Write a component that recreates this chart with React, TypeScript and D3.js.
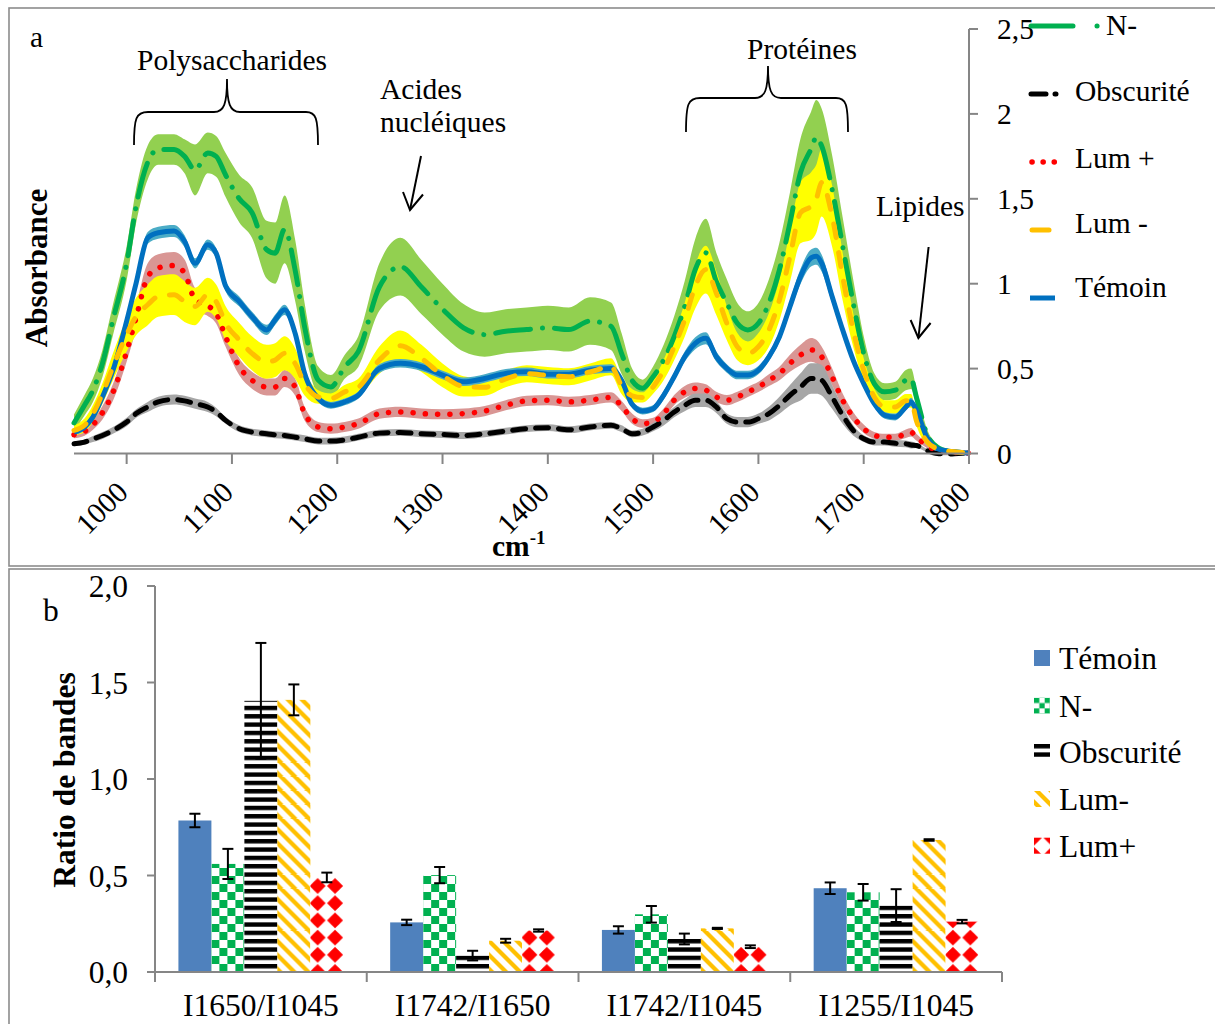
import React from "react";
import * as d3 from "d3";

// ---------- Panel a : FTIR spectra (mean ± sd) ----------
const wavenumbers = [
  950, 960, 968, 977, 987, 1000, 1009, 1020, 1030, 1045,
  1055, 1065, 1077, 1085, 1094, 1107, 1119, 1133, 1141, 1150,
  1160, 1169, 1182, 1194, 1207, 1220, 1240, 1260, 1280, 1300,
  1320, 1340, 1360, 1380, 1400, 1420, 1440, 1460, 1470, 1480,
  1490, 1500, 1510, 1520, 1530, 1540, 1550, 1560, 1570, 1580,
  1590, 1600, 1610, 1620, 1630, 1640, 1650, 1655, 1660, 1670,
  1680, 1690, 1700, 1710, 1720, 1730, 1740, 1745, 1750, 1760,
  1770, 1780, 1790, 1800,
];

const temoinMean = [
  0.126, 0.156, 0.215, 0.333, 0.49, 0.78, 1.004, 1.27, 1.3, 1.31,
  1.25, 1.12, 1.23, 1.18, 0.986, 0.895, 0.807, 0.728, 0.787, 0.846,
  0.708, 0.472, 0.324, 0.284, 0.304, 0.343, 0.501, 0.531, 0.511, 0.462,
  0.422, 0.442, 0.472, 0.481, 0.467, 0.467, 0.491, 0.501, 0.432, 0.29,
  0.25, 0.264, 0.343, 0.452, 0.57, 0.649, 0.679, 0.57, 0.501, 0.462,
  0.462, 0.491, 0.57, 0.688, 0.866, 1.043, 1.152, 1.162, 1.122, 0.925,
  0.728, 0.55, 0.412, 0.294, 0.225, 0.215, 0.274, 0.304, 0.254, 0.096,
  0.028, 0.014, 0.008, 0.002,
];
const temoinSd = [
  0.015, 0.02, 0.02, 0.025, 0.025, 0.025, 0.03, 0.035, 0.035, 0.035,
  0.035, 0.03, 0.03, 0.03, 0.03, 0.03, 0.03, 0.03, 0.03, 0.03,
  0.03, 0.025, 0.02, 0.02, 0.02, 0.02, 0.025, 0.025, 0.025, 0.025,
  0.025, 0.025, 0.025, 0.025, 0.025, 0.025, 0.025, 0.025, 0.025, 0.02,
  0.02, 0.02, 0.025, 0.025, 0.03, 0.035, 0.035, 0.03, 0.025, 0.025,
  0.025, 0.025, 0.025, 0.03, 0.035, 0.045, 0.05, 0.05, 0.05, 0.04,
  0.03, 0.025, 0.02, 0.02, 0.02, 0.02, 0.02, 0.025, 0.02, 0.015,
  0.01, 0.008, 0.006, 0.005,
];

const nMinusMean = [
  0.18, 0.284, 0.373, 0.53, 0.787, 1.12, 1.457, 1.714, 1.79, 1.79,
  1.75, 1.67, 1.77, 1.75, 1.64, 1.5, 1.42, 1.2, 1.18, 1.32,
  1.08, 0.747, 0.432, 0.392, 0.51, 0.6, 0.98, 1.1, 0.98, 0.85,
  0.74, 0.7, 0.72, 0.73, 0.74, 0.73, 0.78, 0.75, 0.59, 0.43,
  0.385, 0.452, 0.55, 0.688, 0.866, 1.083, 1.182, 1.013, 0.886, 0.767,
  0.728, 0.767, 0.886, 1.083, 1.359, 1.655, 1.793, 1.862, 1.812, 1.556,
  1.221, 0.886, 0.59, 0.412, 0.363, 0.373, 0.432, 0.44, 0.333, 0.116,
  0.037, 0.014, 0.008, 0.002,
];
const nMinusSd = [
  0.05, 0.06, 0.07, 0.08, 0.09, 0.1, 0.1, 0.1, 0.09, 0.09,
  0.1, 0.15, 0.12, 0.12, 0.13, 0.14, 0.15, 0.17, 0.18, 0.2,
  0.18, 0.14, 0.08, 0.07, 0.07, 0.09, 0.14, 0.17, 0.16, 0.15,
  0.14, 0.13, 0.13, 0.13, 0.13, 0.13, 0.14, 0.14, 0.12, 0.07,
  0.05, 0.06, 0.09, 0.12, 0.15, 0.18, 0.2, 0.17, 0.14, 0.12,
  0.11, 0.12, 0.14, 0.16, 0.18, 0.2, 0.22, 0.22, 0.22, 0.2,
  0.17, 0.14, 0.1, 0.06, 0.05, 0.05, 0.06, 0.06, 0.05, 0.03,
  0.015, 0.01, 0.01, 0.005,
];

const lumPlusMean = [
  0.11, 0.13, 0.17, 0.24, 0.36, 0.6, 0.8, 1.04, 1.093, 1.107,
  1.063, 0.905, 0.87, 0.826, 0.688, 0.511, 0.432, 0.392, 0.392, 0.442,
  0.392, 0.235, 0.156, 0.146, 0.156, 0.176, 0.235, 0.245, 0.235, 0.231,
  0.235, 0.25, 0.284, 0.31, 0.314, 0.304, 0.314, 0.33, 0.28, 0.205,
  0.176, 0.185, 0.235, 0.314, 0.363, 0.383, 0.373, 0.333, 0.314, 0.333,
  0.363, 0.392, 0.432, 0.471, 0.531, 0.58, 0.61, 0.6, 0.57, 0.452,
  0.314, 0.215, 0.146, 0.107, 0.096, 0.096, 0.116, 0.125, 0.096, 0.047,
  0.018, 0.01, 0.005, 0.002,
];
const lumPlusSd = [
  0.02, 0.025, 0.03, 0.04, 0.05, 0.06, 0.07, 0.08, 0.08, 0.08,
  0.08, 0.07, 0.06, 0.06, 0.06, 0.05, 0.05, 0.05, 0.05, 0.05,
  0.05, 0.04, 0.03, 0.03, 0.03, 0.03, 0.03, 0.03, 0.03, 0.03,
  0.03, 0.03, 0.03, 0.03, 0.03, 0.03, 0.03, 0.03, 0.03, 0.03,
  0.025, 0.025, 0.03, 0.03, 0.035, 0.035, 0.035, 0.03, 0.03, 0.03,
  0.03, 0.03, 0.035, 0.04, 0.05, 0.06, 0.07, 0.07, 0.06, 0.05,
  0.04, 0.03, 0.025, 0.02, 0.02, 0.02, 0.025, 0.025, 0.02, 0.015,
  0.01, 0.008, 0.005, 0.004,
];

const lumMinusMean = [
  0.136, 0.166, 0.235, 0.353, 0.511, 0.7, 0.807, 0.876, 0.925, 0.935,
  0.895, 0.866, 0.935, 0.895, 0.767, 0.669, 0.59, 0.54, 0.55, 0.59,
  0.53, 0.412, 0.333, 0.324, 0.363, 0.39, 0.55, 0.635, 0.56, 0.46,
  0.395, 0.39, 0.44, 0.47, 0.46, 0.452, 0.48, 0.511, 0.4, 0.34,
  0.33, 0.392, 0.491, 0.629, 0.787, 0.984, 1.083, 0.945, 0.767, 0.629,
  0.59, 0.629, 0.728, 0.905, 1.162, 1.418, 1.457, 1.5, 1.596, 1.398,
  1.043, 0.728, 0.491, 0.333, 0.274, 0.274, 0.31, 0.31, 0.195, 0.07,
  0.028, 0.014, 0.008, 0.002,
];
const lumMinusSd = [
  0.03, 0.04, 0.05, 0.06, 0.08, 0.1, 0.11, 0.12, 0.12, 0.12,
  0.12, 0.11, 0.1, 0.1, 0.1, 0.1, 0.1, 0.1, 0.1, 0.1,
  0.09, 0.07, 0.04, 0.03, 0.04, 0.05, 0.08, 0.09, 0.08, 0.07,
  0.06, 0.05, 0.05, 0.05, 0.05, 0.05, 0.05, 0.05, 0.05, 0.04,
  0.03, 0.04, 0.06, 0.08, 0.1, 0.13, 0.14, 0.13, 0.1, 0.08,
  0.07, 0.08, 0.1, 0.12, 0.15, 0.18, 0.2, 0.2, 0.2, 0.18,
  0.14, 0.1, 0.07, 0.05, 0.04, 0.04, 0.04, 0.04, 0.03, 0.02,
  0.01, 0.01, 0.005, 0.005,
];

const obscuriteMean = [
  0.057, 0.067, 0.085, 0.106, 0.136, 0.185, 0.235, 0.274, 0.304, 0.318,
  0.31, 0.294, 0.274, 0.245, 0.195, 0.146, 0.126, 0.116, 0.11, 0.106,
  0.096, 0.087, 0.073, 0.073, 0.08, 0.096, 0.12, 0.124, 0.116, 0.112,
  0.106, 0.116, 0.132, 0.146, 0.152, 0.14, 0.156, 0.166, 0.146, 0.116,
  0.126, 0.156, 0.195, 0.244, 0.284, 0.314, 0.314, 0.274, 0.205, 0.185,
  0.185, 0.205, 0.235, 0.284, 0.343, 0.392, 0.442, 0.442, 0.432, 0.333,
  0.225, 0.136, 0.087, 0.067, 0.067, 0.06, 0.057, 0.05, 0.047, 0.018,
  0.0, -0.003, 0.0, 0.002,
];
const obscuriteSd = [
  0.015, 0.015, 0.018, 0.02, 0.02, 0.025, 0.025, 0.03, 0.03, 0.03,
  0.03, 0.03, 0.03, 0.025, 0.02, 0.02, 0.02, 0.02, 0.02, 0.02,
  0.02, 0.02, 0.02, 0.02, 0.02, 0.02, 0.02, 0.02, 0.02, 0.02,
  0.02, 0.02, 0.02, 0.02, 0.02, 0.02, 0.02, 0.02, 0.02, 0.02,
  0.02, 0.025, 0.03, 0.03, 0.035, 0.04, 0.04, 0.035, 0.03, 0.03,
  0.03, 0.03, 0.04, 0.05, 0.06, 0.08, 0.09, 0.09, 0.09, 0.07,
  0.05, 0.03, 0.02, 0.02, 0.02, 0.02, 0.02, 0.02, 0.015, 0.01,
  0.01, 0.008, 0.005, 0.004,
];

const wavenumberTicks = [1000, 1100, 1200, 1300, 1400, 1500, 1600, 1700, 1800];
const absorbanceTicks = [0, 0.5, 1, 1.5, 2, 2.5];

// ---------- Panel b : band ratios ----------
const ratioCategories = ["I1650/I1045", "I1742/I1650", "I1742/I1045", "I1255/I1045"];
const barSeriesNames = ["Témoin", "N-", "Obscurité", "Lum-", "Lum+"];
const temoinRatio = [0.785, 0.257, 0.218, 0.434];
const temoinRatioErr = [0.035, 0.014, 0.019, 0.03];
const nMinusRatio = [0.56, 0.502, 0.299, 0.413];
const nMinusRatioErr = [0.078, 0.042, 0.043, 0.043];
const obscuriteRatio = [1.405, 0.085, 0.171, 0.344];
const obscuriteRatioErr = [0.3, 0.025, 0.028, 0.085];
const lumMinusRatio = [1.41, 0.162, 0.226, 0.684];
const lumMinusRatioErr = [0.08, 0.01, 0.003, 0.004];
const lumPlusRatio = [0.49, 0.215, 0.131, 0.261];
const lumPlusRatioErr = [0.025, 0.006, 0.007, 0.009];
const ratioTicks = [0, 0.5, 1, 1.5, 2];

const FONT = "'Liberation Serif', 'Times New Roman', serif";

type Spec = { key: string; mean: number[]; sd: number[]; line: string; band: string; dash: string | null };

const spectra: Record<string, Spec> = {
  "N-": { key: "N-", mean: nMinusMean, sd: nMinusSd, line: "#00b050", band: "#92d050", dash: "35 12 0.1 12" },
  "Obscurité": { key: "Obscurité", mean: obscuriteMean, sd: obscuriteSd, line: "#000000", band: "#a6a6a6", dash: "13 10" },
  "Lum +": { key: "Lum +", mean: lumPlusMean, sd: lumPlusSd, line: "#ff0000", band: "#d99694", dash: "0.1 12.2" },
  "Lum -": { key: "Lum -", mean: lumMinusMean, sd: lumMinusSd, line: "#ffc000", band: "#ffff00", dash: "14 15" },
  "Témoin": { key: "Témoin", mean: temoinMean, sd: temoinSd, line: "#0070c0", band: "#4bacc6", dash: null },
};
const bandOrder = ["N-", "Lum +", "Obscurité", "Lum -", "Témoin"];
const lineOrder = ["N-", "Obscurité", "Lum +", "Témoin", "Lum -"];

const barData: Record<string, { v: number[]; e: number[] }> = {
  "Témoin": { v: temoinRatio, e: temoinRatioErr },
  "N-": { v: nMinusRatio, e: nMinusRatioErr },
  "Obscurité": { v: obscuriteRatio, e: obscuriteRatioErr },
  "Lum-": { v: lumMinusRatio, e: lumMinusRatioErr },
  "Lum+": { v: lumPlusRatio, e: lumPlusRatioErr },
};

function PatternDef({ name, id, x0, y0, cell = 8 }: { name: string; id: string; x0: number; y0: number; cell?: number }) {
  if (name === "N-") {
    const c = cell;
    return (
      <pattern id={id} patternUnits="userSpaceOnUse" x={x0} y={y0} width={2 * c} height={2 * c}>
        <rect width={2 * c} height={2 * c} fill="#fff" />
        <rect x={0} y={0} width={c} height={c} fill="#00b050" />
        <rect x={c} y={c} width={c} height={c} fill="#00b050" />
      </pattern>
    );
  }
  if (name === "Obscurité") {
    return (
      <pattern id={id} patternUnits="userSpaceOnUse" x={x0} y={y0 - 8} width={60} height={8.33}>
        <rect width={60} height={8.33} fill="#fff" />
        <rect x={0} y={0} width={60} height={4.4} fill="#000" />
      </pattern>
    );
  }
  if (name === "Lum-") {
    return (
      <pattern id={id} patternUnits="userSpaceOnUse" x={x0} y={y0} width={14} height={14}>
        <rect width={14} height={14} fill="#fff" />
        <path d="M0,0 L6,0 L14,8 L14,14 Z" fill="#ffc000" />
        <path d="M0,8 L6,14 L0,14 Z" fill="#ffc000" />
      </pattern>
    );
  }
  if (name === "Lum+") {
    const w = 17.4, h = 17.2, cx = w / 2, cy = h / 2;
    return (
      <pattern id={id} patternUnits="userSpaceOnUse" x={x0} y={y0} width={w} height={h}>
        <rect width={w} height={h} fill="#fff" />
        <path d={`M${cx},${cy - 8} L${cx + 8},${cy} L${cx},${cy + 8} L${cx - 8},${cy} Z`} fill="#ff0000" />
        <circle cx={cx} cy={cy} r={5.4} fill="#ff0000" />
      </pattern>
    );
  }
  return null;
}

function fillFor(name: string, id: string) {
  return name === "Témoin" ? "#4f81bd" : `url(#${id})`;
}

export default function App() {
  // ----- panel a scales -----
  const xA = d3.scaleLinear().domain([950, 1800]).range([74, 969]);
  const yA = d3.scaleLinear().domain([0, 2.5]).range([453.5, 29]);

  const bandPath = (s: Spec) =>
    d3
      .area<number>()
      .x((_, i) => xA(wavenumbers[i]))
      .y0((_, i) => yA(s.mean[i] - s.sd[i]))
      .y1((_, i) => yA(s.mean[i] + s.sd[i]))
      .curve(d3.curveMonotoneX)(wavenumbers) as string;
  const linePath = (s: Spec) =>
    d3
      .line<number>()
      .x((_, i) => xA(wavenumbers[i]))
      .y((_, i) => yA(s.mean[i]))
      .curve(d3.curveMonotoneX)(wavenumbers) as string;

  const fmtA = (d: number) => String(d).replace(".", ",");

  // ----- panel b scales -----
  const xB = d3.scaleBand<string>().domain(ratioCategories).range([155, 1002]).padding(0);
  const xInner = d3
    .scaleBand<string>()
    .domain(barSeriesNames)
    .range([0, xB.step()])
    .paddingInner(0)
    .paddingOuter(0.71);
  const yB = d3.scaleLinear().domain([0, 2]).range([972, 586]);
  const fmtB = (d: number) => d.toFixed(1).replace(".", ",");

  const axisGray = "#868686";
  const legendA = [
    { key: "N-", y: 26, text: "N-", tx: 1106, tb: 35 },
    { key: "Obscurité", y: 94, text: "Obscurité", tx: 1075, tb: 101 },
    { key: "Lum +", y: 162, text: "Lum +", tx: 1075, tb: 168 },
    { key: "Lum -", y: 230, text: "Lum -", tx: 1075, tb: 233 },
    { key: "Témoin", y: 298, text: "Témoin", tx: 1075, tb: 297 },
  ];

  const legendBRows = [658, 705.7, 751.7, 799, 845.7];

  const barBottom = yB(0);

  return (
    <svg
      width={1215}
      height={1024}
      style={{ position: "absolute", left: 0, top: 0, display: "block", background: "#fff" }}
      fontFamily={FONT}
    >
      <defs>
        {ratioCategories.map((cat, ci) =>
          barSeriesNames.map((name) => {
            const bx = (xB(cat) as number) + (xInner(name) as number);
            return (
              <PatternDef
                key={`p-${ci}-${name}`}
                name={name}
                id={`pat-${ci}-${barSeriesNames.indexOf(name)}`}
                x0={name === "Lum+" ? bx - 1.4 : bx}
                y0={name === "Lum+" ? barBottom - 8.6 : barBottom}
              />
            );
          })
        )}
        {barSeriesNames.map((name, i) => (
          <PatternDef
            key={`lp-${name}`}
            name={name}
            id={`lpat-${i}`}
            cell={5.34}
            x0={name === "Lum+" ? 1034 - 8.7 : 1034}
            y0={name === "Lum+" ? legendBRows[i] - 8 - 8.6 : legendBRows[i] - 8}
          />
        ))}
      </defs>

      <rect x={0} y={0} width={1215} height={1024} fill="#fff" />

      {/* panel borders */}
      <rect x={9} y={8} width={1230} height={558} fill="none" stroke="#8c8c8c" strokeWidth={1.6} />
      <rect x={9} y={569} width={1230} height={480} fill="none" stroke="#8c8c8c" strokeWidth={1.6} />

      {/* ================= Panel a ================= */}
      <g>
        {bandOrder.map((k) => (
          <path key={`band-${k}`} d={bandPath(spectra[k])} fill={spectra[k].band} stroke="none" />
        ))}
        {lineOrder.map((k) => {
          const s = spectra[k];
          return (
            <path
              key={`line-${k}`}
              d={linePath(s)}
              fill="none"
              stroke={s.line}
              strokeWidth={k === "Lum +" ? 5.5 : 5}
              strokeLinecap={s.dash ? "round" : "butt"}
              strokeLinejoin="round"
              strokeDasharray={s.dash ?? undefined}
            />
          );
        })}

        {/* x axis */}
        <line x1={74} x2={969} y1={453.5} y2={453.5} stroke={axisGray} strokeWidth={2} />
        {wavenumberTicks.map((t) => (
          <g key={`xt-${t}`}>
            <line x1={xA(t)} x2={xA(t)} y1={453.5} y2={464} stroke={axisGray} strokeWidth={2} />
            <text
              transform={`translate(${xA(t) + 3},${494}) rotate(-45)`}
              textAnchor="end"
              fontSize={29.5}
              fill="#000"
            >
              {t}
            </text>
          </g>
        ))}
        <text x={492} y={556} fontSize={29.5} fontWeight="bold">
          cm<tspan fontSize={19} dy={-12}>-1</tspan>
        </text>

        {/* right y axis */}
        <line x1={969} x2={969} y1={yA(2.5)} y2={453.5} stroke={axisGray} strokeWidth={2} />
        {absorbanceTicks.map((t) => (
          <g key={`yt-${t}`}>
            <line x1={969} x2={978} y1={yA(t)} y2={yA(t)} stroke={axisGray} strokeWidth={2} />
            <text x={997} y={yA(t) + 10} fontSize={29.5}>
              {fmtA(t)}
            </text>
          </g>
        ))}

        <text transform="translate(47,268) rotate(-90)" textAnchor="middle" fontSize={31} fontWeight="bold">
          Absorbance
        </text>
        <text x={30} y={47} fontSize={29.5}>a</text>

        {/* annotations */}
        <text x={232} y={70} textAnchor="middle" fontSize={29.5}>Polysaccharides</text>
        <path
          d="M134,145 C134,118 136,112 148,112 L214,112 C224,112 227,104 227,79 C227,104 230,112 240,112 L306,112 C316,112 318,118 318,145"
          fill="none"
          stroke="#000"
          strokeWidth={1.8}
        />
        <text x={380} y={99} fontSize={29.5}>Acides</text>
        <text x={380} y={132} fontSize={29.5}>nucléiques</text>
        <line x1={421} y1={156} x2={410} y2={210} stroke="#000" strokeWidth={2} />
        <path d="M403,192 L410,210 L423,194.5" fill="none" stroke="#000" strokeWidth={2} />

        <text x={802} y={59} textAnchor="middle" fontSize={29.5}>Protéines</text>
        <path
          d="M686,132 C686,104 688,98 700,98 L755,98 C765,98 768,90 768,66 C768,90 771,98 781,98 L836,98 C846,98 848,104 848,132"
          fill="none"
          stroke="#000"
          strokeWidth={1.8}
        />
        <text x={876} y={216} fontSize={29.5}>Lipides</text>
        <line x1={928.6} y1={247} x2={918.4} y2={338} stroke="#000" strokeWidth={2} />
        <path d="M910.6,320 L918.4,338 L930.6,323" fill="none" stroke="#000" strokeWidth={2} />

        {/* legend a */}
        {legendA.map((l) => {
          const s = spectra[l.key];
          let seg: React.ReactNode;
          if (l.key === "N-") {
            seg = (
              <line x1={1031} x2={1098} y1={l.y} y2={l.y} stroke={s.line} strokeWidth={5}
                strokeLinecap="round" strokeDasharray="42 24 0.1 100" />
            );
          } else if (l.key === "Témoin") {
            seg = <line x1={1030} x2={1055} y1={l.y} y2={l.y} stroke={s.line} strokeWidth={5} />;
          } else if (l.key === "Lum +") {
            seg = (
              <line x1={1032} x2={1055} y1={l.y} y2={l.y} stroke={s.line} strokeWidth={5.5}
                strokeLinecap="round" strokeDasharray="0.1 11" />
            );
          } else if (l.key === "Lum -") {
            seg = (
              <line x1={1032} x2={1049} y1={l.y} y2={l.y} stroke={s.line} strokeWidth={5} strokeLinecap="round" />
            );
          } else {
            seg = (
              <line x1={1031} x2={1056} y1={l.y} y2={l.y} stroke={s.line} strokeWidth={5}
                strokeLinecap="round" strokeDasharray="15 9" />
            );
          }
          return (
            <g key={`lg-${l.key}`}>
              {seg}
              <text x={l.tx} y={l.tb} fontSize={29.5}>{l.text}</text>
            </g>
          );
        })}
      </g>

      {/* ================= Panel b ================= */}
      <g>
        {ratioCategories.map((cat, ci) =>
          barSeriesNames.map((name, si) => {
            const bx = (xB(cat) as number) + (xInner(name) as number);
            const v = barData[name].v[ci];
            const e = barData[name].e[ci];
            const cx = bx + xInner.bandwidth() / 2;
            return (
              <g key={`bar-${ci}-${si}`}>
                <rect
                  x={bx}
                  y={yB(v)}
                  width={xInner.bandwidth()}
                  height={barBottom - yB(v)}
                  fill={fillFor(name, `pat-${ci}-${si}`)}
                />
                <line x1={cx} x2={cx} y1={yB(v + e)} y2={yB(Math.max(0, v - e))} stroke="#000" strokeWidth={2} />
                <line x1={cx - 5.5} x2={cx + 5.5} y1={yB(v + e)} y2={yB(v + e)} stroke="#000" strokeWidth={2} />
                <line x1={cx - 5.5} x2={cx + 5.5} y1={yB(Math.max(0, v - e))} y2={yB(Math.max(0, v - e))} stroke="#000" strokeWidth={2} />
              </g>
            );
          })
        )}

        {/* axes */}
        <line x1={155} x2={155} y1={yB(2)} y2={barBottom} stroke={axisGray} strokeWidth={2} />
        {ratioTicks.map((t) => (
          <g key={`bt-${t}`}>
            <line x1={147} x2={155} y1={yB(t)} y2={yB(t)} stroke={axisGray} strokeWidth={2} />
            <text x={128} y={yB(t) + 11} textAnchor="end" fontSize={31.5}>{fmtB(t)}</text>
          </g>
        ))}
        <line x1={155} x2={1002} y1={barBottom} y2={barBottom} stroke={axisGray} strokeWidth={2} />
        {[...ratioCategories.map((c) => xB(c) as number), 1002].map((xv, i) => (
          <line key={`bx-${i}`} x1={xv} x2={xv} y1={barBottom} y2={barBottom + 10} stroke={axisGray} strokeWidth={2} />
        ))}
        {ratioCategories.map((c) => (
          <text key={`bl-${c}`} x={(xB(c) as number) + xB.bandwidth() / 2} y={1016} textAnchor="middle" fontSize={31.5}>
            {c}
          </text>
        ))}

        <text transform="translate(75,780) rotate(-90)" textAnchor="middle" fontSize={31.5} fontWeight="bold">
          Ratio de bandes
        </text>
        <text x={43} y={621} fontSize={31.5}>b</text>

        {/* legend b */}
        {barSeriesNames.map((name, i) => (
          <g key={`lb-${name}`}>
            <rect x={1034} y={legendBRows[i] - 8} width={16} height={16} fill={name === "Témoin" ? "#4f81bd" : `url(#lpat-${i})`} />
            <text x={1059} y={legendBRows[i] + 11} fontSize={31.5}>{name}</text>
          </g>
        ))}
      </g>
    </svg>
  );
}
